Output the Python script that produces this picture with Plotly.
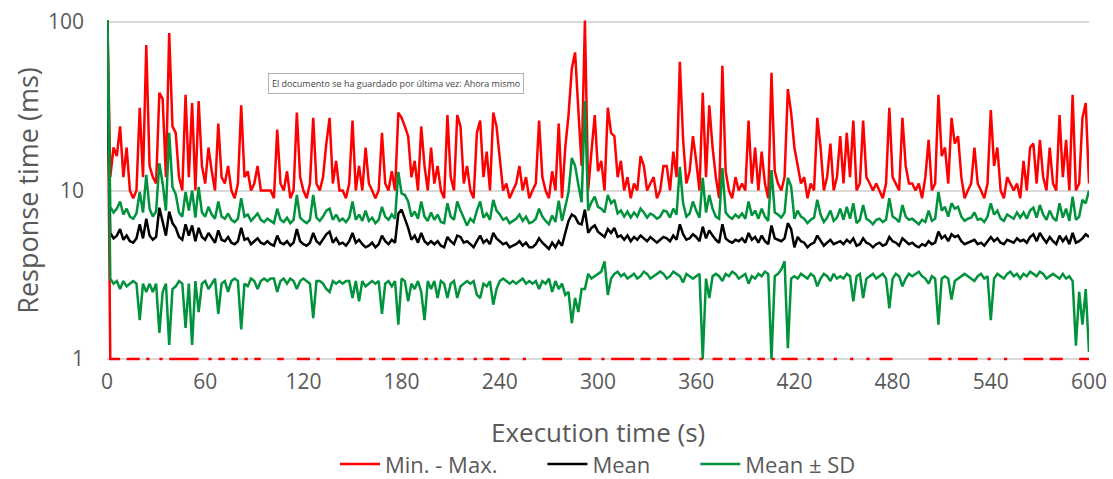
import plotly.graph_objects as go

# Execution time (s), one sample every 2 s
time_s = list(range(0, 601, 2))

# Max response time (ms)
max_ms = [
    150, 12, 18, 16, 24, 12, 18, 10, 9, 10,
    31, 12, 73, 14, 12, 11, 38, 35, 12, 86,
    24, 22, 12, 10, 37, 12, 33, 10, 34, 14,
    11, 18, 13, 10, 25, 12, 11, 14, 10, 9,
    11, 32, 12, 13, 10, 11, 14, 10, 10, 10,
    10, 9, 23, 11, 10, 13, 9, 10, 29, 12,
    10, 9, 11, 27, 11, 10, 12, 19, 27, 11,
    15, 10, 10, 9, 11, 26, 10, 14, 10, 18,
    11, 10, 9, 10, 22, 11, 10, 13, 10, 29,
    27, 24, 21, 12, 15, 10, 24, 14, 10, 18,
    11, 14, 10, 9, 28, 12, 10, 28, 24, 11,
    14, 10, 9, 22, 26, 12, 17, 10, 29, 24,
    15, 10, 11, 9, 10, 11, 14, 10, 12, 9,
    10, 11, 26, 12, 10, 9, 13, 10, 25, 9,
    18, 28, 53, 66, 30, 14, 102, 10, 17, 28,
    13, 15, 10, 31, 22, 21, 12, 15, 10, 12,
    9, 11, 10, 16, 14, 10, 11, 12, 9, 10,
    14, 14, 10, 17, 12, 58, 20, 11, 13, 21,
    15, 10, 38, 12, 32, 18, 12, 9, 55, 13,
    10, 9, 12, 10, 11, 10, 26, 11, 18, 10,
    17, 11, 9, 50, 13, 11, 10, 12, 40, 29,
    18, 14, 11, 12, 9, 11, 10, 27, 18, 10,
    12, 19, 10, 12, 21, 11, 22, 12, 26, 10,
    11, 26, 12, 11, 10, 11, 10, 9, 11, 31,
    12, 11, 10, 27, 14, 11, 11, 10, 11, 9,
    12, 20, 10, 11, 37, 16, 18, 11, 27, 19,
    21, 12, 9, 10, 11, 18, 11, 10, 9, 11,
    30, 14, 18, 10, 9, 12, 11, 10, 11, 9,
    15, 10, 18, 19, 11, 20, 12, 10, 18, 11,
    10, 28, 12, 20, 10, 37, 10, 11, 27, 33, 11,
]

# Min response time (ms); 0 ms cannot be shown on the log axis
min_ms = [
    150, 1, 1, 1, 1, 0, 1, 1, 1, 1,
    1, 0, 1, 1, 0, 0, 1, 1, 0, 1,
    1, 1, 1, 1, 1, 1, 1, 1, 1, 0,
    0, 1, 1, 0, 1, 1, 1, 0, 1, 1,
    1, 0, 1, 1, 0, 1, 1, 1, 0, 0,
    0, 0, 1, 1, 1, 0, 0, 0, 1, 1,
    1, 1, 1, 0, 1, 1, 0, 0, 0, 0,
    1, 1, 1, 1, 1, 1, 1, 1, 1, 0,
    1, 1, 1, 0, 1, 1, 1, 1, 1, 0,
    1, 1, 1, 1, 1, 1, 0, 1, 1, 0,
    1, 1, 0, 1, 1, 1, 0, 1, 1, 1,
    0, 0, 1, 1, 0, 1, 1, 1, 1, 0,
    1, 1, 1, 1, 0, 0, 0, 1, 1, 0,
    0, 0, 0, 1, 1, 1, 1, 1, 1, 1,
    0, 0, 0, 0, 1, 1, 1, 1, 1, 0,
    0, 1, 1, 0, 1, 1, 1, 1, 1, 1,
    1, 1, 0, 1, 1, 1, 1, 0, 1, 1,
    1, 1, 0, 1, 1, 1, 1, 1, 1, 0,
    0, 1, 1, 0, 0, 1, 1, 1, 1, 0,
    1, 1, 1, 0, 0, 1, 1, 1, 0, 1,
    1, 1, 0, 1, 1, 0, 1, 1, 1, 1,
    1, 1, 0, 0, 1, 1, 0, 1, 1, 1,
    0, 0, 1, 1, 0, 0, 0, 1, 1, 0,
    0, 0, 1, 1, 0, 0, 1, 1, 1, 1,
    1, 0, 0, 0, 0, 0, 0, 0, 0, 0,
    0, 1, 1, 1, 1, 1, 0, 1, 1, 0,
    1, 1, 1, 1, 1, 1, 1, 0, 0, 1,
    1, 0, 0, 0, 1, 1, 0, 0, 0, 0,
    1, 1, 1, 1, 1, 1, 1, 0, 1, 1,
    1, 1, 1, 0, 0, 0, 0, 1, 1, 1, 1,
]

# Mean response time (ms)
mean_ms = [
    60, 5.6, 5.2, 5.4, 5.9, 5.1, 5.4, 5.0, 4.9, 5.2,
    6.3, 5.2, 6.8, 5.4, 5.1, 5.3, 7.9, 6.6, 5.4, 7.5,
    6.4, 6.0, 5.3, 5.1, 6.3, 5.4, 6.2, 5.0, 6.0, 5.3,
    5.1, 5.6, 5.2, 4.9, 5.8, 5.1, 5.0, 5.3, 4.9, 4.8,
    5.0, 6.0, 5.1, 5.2, 4.8, 5.0, 5.2, 4.9, 4.8, 5.0,
    4.8, 4.7, 5.4, 4.9, 4.8, 5.0, 4.7, 4.9, 5.9, 5.0,
    4.8, 4.7, 4.9, 5.6, 5.0, 4.8, 5.1, 5.5, 5.7, 4.9,
    5.2, 4.8, 4.9, 4.7, 5.0, 5.6, 4.9, 5.1, 4.8, 4.6,
    4.7, 4.9, 4.6, 4.8, 5.4, 5.0, 4.8, 5.1, 4.9, 7.3,
    7.7, 6.8, 6.0, 5.1, 5.4, 4.9, 5.6, 5.0, 4.8, 5.0,
    4.8, 5.0, 4.7, 4.6, 5.3, 5.0, 4.8, 5.4, 5.3, 4.9,
    5.0, 4.8, 4.6, 5.0, 5.4, 4.9, 5.1, 4.8, 5.6, 5.2,
    5.0, 4.8, 4.9, 4.6, 4.7, 4.8, 5.0, 4.7, 4.9, 4.6,
    4.6, 4.8, 5.2, 4.9, 4.7, 4.5, 4.9, 4.6, 5.0, 4.7,
    5.6, 6.6, 7.2, 7.0, 6.4, 6.3, 7.7, 5.6, 6.0, 6.2,
    5.7, 5.5, 5.3, 5.9, 5.6, 6.0, 5.3, 5.4, 5.1, 5.4,
    5.0, 5.3, 5.1, 5.4, 5.2, 5.0, 5.3, 5.1, 4.9, 5.1,
    5.3, 5.2, 5.0, 5.4, 5.1, 6.3, 5.5, 5.1, 5.2, 5.5,
    5.3, 5.0, 6.1, 5.2, 5.8, 5.4, 5.1, 4.9, 6.3, 5.2,
    5.0, 4.9, 5.1, 5.0, 5.2, 4.9, 5.6, 5.1, 5.3, 4.9,
    5.4, 5.0, 4.8, 6.2, 5.2, 5.1, 5.0, 5.2, 6.4, 5.9,
    4.6, 5.3, 5.0, 4.9, 4.6, 4.8, 4.9, 5.4, 5.0, 4.7,
    4.9, 5.1, 4.8, 4.9, 5.0, 4.8, 5.1, 4.9, 5.2, 4.7,
    4.8, 5.2, 4.9, 4.8, 4.6, 4.8, 4.9, 4.7, 4.8, 5.3,
    5.0, 4.9, 4.7, 5.2, 5.0, 4.8, 4.9, 4.7, 4.6, 4.8,
    4.7, 5.0, 4.8, 4.9, 5.7, 5.2, 5.4, 5.0, 5.5, 5.3,
    5.4, 5.0, 4.8, 4.9, 5.0, 5.1, 4.8, 4.9, 4.7, 5.0,
    5.3, 5.0, 5.2, 4.9, 4.8, 5.1, 5.0, 4.9, 5.2, 5.0,
    5.1, 4.9, 5.3, 5.5, 5.0, 5.6, 5.2, 4.9, 5.3, 5.0,
    4.8, 5.4, 5.0, 5.3, 4.8, 5.6, 4.9, 5.0, 5.2, 5.5, 5.3,
]

# Mean + SD (ms)
upper_ms = [
    150, 8.0, 7.4, 7.8, 8.6, 7.2, 7.8, 7.0, 6.8, 7.3,
    9.8, 7.4, 12.4, 7.8, 7.0, 7.5, 14.5, 11.0, 7.6, 22,
    10.5, 9.5, 7.4, 7.0, 9.8, 7.6, 10.0, 6.9, 10.5, 7.4,
    7.0, 8.0, 7.2, 6.8, 8.6, 7.0, 6.8, 7.3, 6.7, 6.5,
    6.8, 9.0, 7.0, 7.2, 6.6, 6.9, 7.3, 6.7, 6.5, 6.8,
    6.6, 6.4, 7.8, 6.7, 6.5, 6.9, 6.4, 6.7, 9.4, 6.9,
    6.6, 6.4, 6.7, 9.4, 6.9, 6.6, 7.0, 7.6, 7.8, 6.7,
    7.2, 6.6, 6.8, 6.5, 6.9, 8.6, 6.7, 7.2, 6.6, 7.6,
    6.6, 6.9, 6.4, 6.7, 8.0, 7.0, 6.7, 7.2, 6.8, 12.9,
    9.6, 9.4, 8.6, 7.0, 7.5, 6.8, 8.6, 7.0, 6.6, 7.4,
    6.7, 7.2, 6.5, 6.4, 8.4, 7.0, 6.7, 8.6, 7.6, 6.8,
    6.2, 6.8, 6.5, 7.6, 8.6, 6.9, 7.3, 6.7, 8.8, 7.6,
    7.2, 6.7, 6.9, 6.4, 6.6, 6.8, 7.2, 6.6, 7.0, 6.4,
    6.5, 6.8, 7.8, 7.0, 6.6, 6.3, 7.1, 6.5, 8.7, 6.6,
    8.0, 9.8, 15.6, 14.0, 10.8, 8.5, 34, 7.6, 8.5, 9.2,
    8.0, 7.8, 7.4, 9.4, 8.4, 8.8, 7.3, 7.6, 7.0, 7.5,
    6.9, 7.4, 7.0, 7.8, 7.4, 6.9, 7.3, 7.1, 6.8, 7.0,
    7.6, 7.5, 6.9, 7.8, 7.2, 13.8, 8.4, 7.0, 7.3, 8.6,
    7.6, 6.9, 11.9, 7.4, 9.4, 7.8, 7.0, 6.8, 13.6, 7.4,
    7.0, 6.8, 7.2, 6.9, 7.3, 6.8, 8.6, 7.1, 7.6, 6.8,
    7.8, 7.0, 6.6, 13.2, 7.4, 7.2, 6.9, 7.4, 11.9, 10.6,
    6.8, 7.6, 7.0, 6.8, 6.4, 6.7, 6.9, 8.8, 7.2, 6.5,
    6.9, 7.6, 6.6, 6.9, 7.8, 6.7, 8.0, 6.8, 8.4, 6.4,
    6.7, 8.2, 6.8, 6.6, 6.3, 6.7, 6.8, 6.5, 6.7, 9.0,
    7.0, 6.8, 6.5, 8.2, 7.0, 6.7, 6.8, 6.5, 6.3, 6.7,
    6.5, 7.6, 6.6, 6.8, 9.8, 7.6, 8.0, 7.0, 8.4, 7.8,
    8.0, 7.0, 6.6, 6.8, 6.9, 7.4, 6.7, 6.8, 6.5, 7.0,
    8.4, 7.2, 7.6, 6.8, 6.6, 7.2, 7.0, 6.8, 7.4, 6.9,
    7.4, 6.8, 7.6, 7.9, 6.9, 8.2, 7.2, 6.7, 7.6, 6.9,
    6.6, 8.4, 6.9, 7.8, 6.6, 9.2, 6.7, 7.0, 8.8, 8.4, 10.0,
]

# Mean - SD (ms)
lower_ms = [
    150, 3.0, 2.8, 2.9, 2.6, 2.9, 2.7, 2.8, 2.9, 2.8,
    1.7, 2.8, 2.5, 2.8, 2.5, 2.8, 1.43, 2.5, 2.8, 1.21,
    2.6, 2.7, 2.9, 2.8, 1.53, 2.8, 1.21, 2.9, 1.9, 2.8,
    2.9, 2.6, 2.8, 3.0, 1.85, 2.8, 2.9, 2.5, 2.9, 3.0,
    2.9, 1.5, 2.8, 2.7, 3.0, 2.9, 2.6, 2.9, 3.0, 2.9,
    3.0, 3.0, 2.5, 2.9, 3.0, 2.8, 3.0, 2.9, 2.6, 2.9,
    3.0, 2.9, 2.8, 1.75, 2.9, 2.9, 2.8, 2.6, 2.5, 2.9,
    2.8, 2.9, 2.8, 2.9, 2.9, 2.3, 2.9, 2.2, 2.9, 2.7,
    2.8, 2.9, 2.8, 2.9, 1.85, 2.8, 2.9, 2.7, 2.9, 1.6,
    3.0, 2.9, 2.2, 2.8, 2.6, 2.9, 2.5, 1.7, 2.9, 2.6,
    2.9, 2.3, 2.9, 2.8, 2.3, 2.8, 2.9, 2.3, 2.7, 2.8,
    2.9, 2.8, 2.9, 2.4, 2.3, 2.8, 2.7, 2.9, 2.1, 2.6,
    2.9, 3.0, 2.9, 2.8, 2.9, 2.8, 2.9, 3.0, 2.8, 2.9,
    2.8, 2.9, 2.6, 2.9, 2.8, 3.0, 2.5, 2.9, 2.6, 2.8,
    2.4, 2.5, 1.63, 2.3, 1.9, 2.6, 2.6, 3.2, 3.0, 3.1,
    3.2, 3.3, 3.8, 2.4, 3.0, 3.2, 3.3, 3.1, 3.2, 3.0,
    3.1, 3.2, 3.0, 3.1, 3.3, 3.2, 3.0, 3.1, 3.2, 3.3,
    3.2, 3.0, 3.1, 3.3, 3.2, 3.1, 2.85, 3.2, 3.1, 3.0,
    3.1, 3.2, 1.0, 3.0, 2.3, 3.1, 3.2, 3.1, 2.9, 3.2,
    3.1, 3.3, 3.2, 3.0, 3.1, 3.2, 2.8, 3.1, 3.0, 3.2,
    3.1, 3.3, 3.2, 1.0, 3.1, 3.2, 3.4, 3.8, 1.16, 3.0,
    3.1, 3.0, 3.2, 3.1, 3.0, 3.2, 3.1, 2.7, 3.0, 3.2,
    3.1, 2.9, 3.2, 3.0, 3.1, 3.0, 3.2, 3.1, 2.2, 3.1,
    3.2, 2.3, 3.0, 3.1, 3.2, 3.0, 3.1, 3.2, 3.0, 2.0,
    3.0, 3.2, 3.1, 2.7, 3.0, 3.2, 3.1, 3.2, 3.3, 3.1,
    3.0, 2.8, 3.1, 3.0, 1.6, 3.0, 3.1, 3.0, 2.25, 2.9,
    3.0, 3.1, 3.2, 3.1, 3.0, 2.9, 3.1, 3.2, 3.0, 3.1,
    1.7, 3.0, 3.2, 3.1, 3.0, 3.2, 3.3, 3.1, 3.2, 3.0,
    3.2, 3.1, 3.3, 3.2, 3.1, 3.3, 3.2, 3.0, 3.1, 3.2,
    3.1, 3.0, 3.2, 3.0, 3.1, 2.9, 1.2, 2.5, 1.6, 2.6, 1.1,
]

x_ticks = [0, 60, 120, 180, 240, 300, 360, 420, 480, 540, 600]
y_ticks = [1, 10, 100]

for arr in (max_ms, min_ms, mean_ms, upper_ms, lower_ms):
    assert len(arr) == len(time_s), len(arr)

RED = "#FF0000"
BLACK = "#000000"
GREEN = "#00933C"
TXT = "#595959"
FONT = "'Open Sans', sans-serif"
PAD = "\u00a0" * 7  # spacing between legend entries

min_plot = [v if v > 0 else None for v in min_ms]

fig = go.Figure()
fig.add_trace(go.Scatter(x=time_s, y=max_ms, mode="lines", name="Min. - Max." + PAD,
                         line=dict(color=RED, width=2.5), legendgroup="mm"))
fig.add_trace(go.Scatter(x=time_s, y=min_plot, mode="lines", name="Min.",
                         line=dict(color=RED, width=2.5), legendgroup="mm",
                         showlegend=False, connectgaps=False))
fig.add_trace(go.Scatter(x=time_s, y=mean_ms, mode="lines", name="Mean" + PAD,
                         line=dict(color=BLACK, width=2.5)))
fig.add_trace(go.Scatter(x=time_s, y=upper_ms, mode="lines", name="Mean ± SD",
                         line=dict(color=GREEN, width=2.5), legendgroup="sd"))
fig.add_trace(go.Scatter(x=time_s, y=lower_ms, mode="lines", name="Mean - SD",
                         line=dict(color=GREEN, width=2.5), legendgroup="sd",
                         showlegend=False))

fig.update_layout(
    width=1113, height=479,
    margin=dict(l=107, r=24, t=20, b=118, autoexpand=False),
    paper_bgcolor="white", plot_bgcolor="white",
    font=dict(family=FONT, color=TXT, size=20),
    showlegend=True,
    legend=dict(orientation="h", x=0.5, xanchor="center",
                yref="container", y=0.031, yanchor="middle",
                font=dict(size=22, color=TXT), traceorder="normal",
                itemwidth=40, tracegroupgap=0),
    xaxis=dict(range=[0, 600], tickvals=x_ticks, ticktext=[str(v) for v in x_ticks],
               showgrid=False, zeroline=False, showline=False, ticks="",
               ticklabelstandoff=6,
               tickfont=dict(size=21, color=TXT)),
    yaxis=dict(type="log", range=[-0.012, 2.012], tickvals=y_ticks, ticktext=[str(v) for v in y_ticks],
               showgrid=True, gridcolor="#D9D9D9", gridwidth=1.5, zeroline=False,
               showline=False, ticks="", ticklabelstandoff=22,
               tickfont=dict(size=21, color=TXT),
               title=dict(text="Response time (ms)", font=dict(size=27, color=TXT), standoff=1)),
    annotations=[
        dict(text="Execution time (s)", xref="paper", yref="paper",
             x=0.5, y=-0.208, xanchor="center", yanchor="middle", showarrow=False,
             font=dict(family=FONT, size=26, color=TXT)),
        dict(text="El documento se ha guardado por última vez: Ahora mismo",
             xref="paper", yref="paper", x=0.294, y=0.815, xanchor="center", yanchor="middle",
             showarrow=False, font=dict(family=FONT, size=9, color="#444444"),
             bgcolor="white", bordercolor="#B0B0B0", borderwidth=1, borderpad=3),
    ],
)

fig.write_html("out.html")
